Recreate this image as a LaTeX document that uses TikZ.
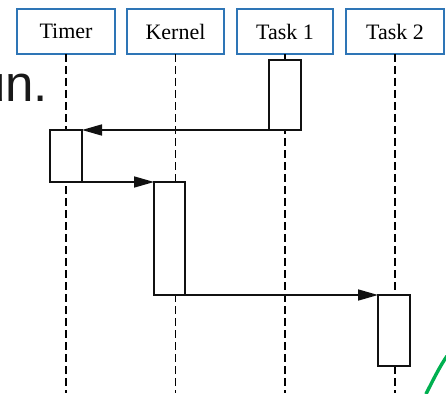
\documentclass[tikz,border=0pt]{standalone}
\usepackage{fontspec}
\setmainfont{Liberation Serif}
\newfontfamily\slidefont{Liberation Sans}
\usetikzlibrary{arrows.meta}
\definecolor{boxblue}{HTML}{2E75B6}
\definecolor{inkgray}{HTML}{111111}
\definecolor{arcgreen}{HTML}{00B050}
\begin{document}
\begin{tikzpicture}[x=1pt,y=-1pt,
  lifebox/.style={draw=boxblue, line width=1.8pt, fill=white, rectangle, inner sep=0pt, outer sep=0pt,
    minimum height=45pt, anchor=north west, font=\fontsize{22}{24}\selectfont},
  actbox/.style={draw=inkgray, line width=1.7pt, fill=white, rectangle, inner sep=0pt, outer sep=0pt, anchor=north west},
  lifeline/.style={draw=black, line width=1.6pt, dash pattern=on 8pt off 4pt},
  msg/.style={draw=inkgray, line width=1.7pt, -{Triangle[length=20pt,width=11pt]}},
]
\useasboundingbox (0,0) rectangle (446,393);
% partial slide text
\node[anchor=base west, inner sep=0pt, font=\slidefont\fontsize{51}{55}\selectfont, text=black!90] (slidetext) at (-23,102) {un.};
% heads
\node[lifebox, minimum width=98pt] (timer) at (17,9) {Timer};
\node[lifebox, minimum width=97pt] (kernel) at (127,9) {Kernel};
\node[lifebox, minimum width=96pt] (task1) at (237,9) {Task 1};
\node[lifebox, minimum width=98pt] (task2) at (346,9) {Task 2};
% lifeline ends
\coordinate (timerend) at (timer.south |- 0,393);
\coordinate (kernelend) at (kernel.south |- 0,393);
\coordinate (task1end) at (task1.south |- 0,393);
\coordinate (task2end) at (task2.south |- 0,393);
\draw[lifeline] (timer.south) -- (timerend);
\draw[lifeline] (kernel.south) -- (kernelend);
\draw[lifeline] (task1.south) -- (task1end);
\draw[lifeline] (task2.south) -- (task2end);
% activations
\node[actbox, minimum width=32pt, minimum height=70pt] (t1a) at (269,60) {};
\node[actbox, minimum width=32pt, minimum height=52pt] (tma) at (50,130) {};
\node[actbox, minimum width=31pt, minimum height=113pt] (kea) at (154,182) {};
\node[actbox, minimum width=32pt, minimum height=71pt] (t2a) at (378,295) {};
% messages
\draw[msg] (t1a.south west) -- (tma.north east);
\draw[msg] (tma.south east) -- (kea.north west);
\draw[msg] (kea.south east) -- (t2a.north west);
% green arc
\coordinate (arcA) at (426,394);
\coordinate (arcB) at (447,356);
\draw[arcgreen, line width=3.4pt] (arcA) .. controls (433,380) and (440,366) .. (arcB);
\end{tikzpicture}
\end{document}
